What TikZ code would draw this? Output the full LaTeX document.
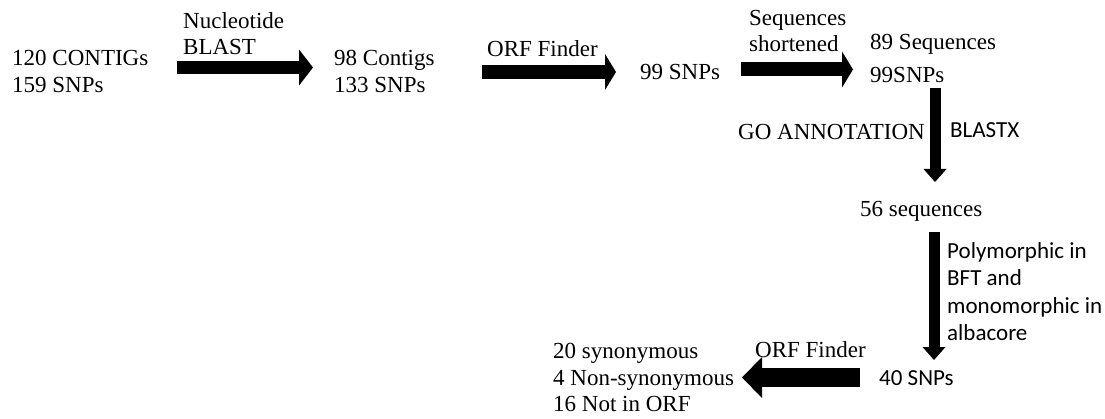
\documentclass[tikz,border=0pt]{standalone}
\usepackage{fontspec}
\setmainfont{Liberation Serif}
\newfontfamily\calib{Carlito}
\usetikzlibrary{arrows.meta}
\begin{document}
\begin{tikzpicture}[x=1pt,y=-1pt,
  lbl/.style={inner sep=0pt, anchor=base west, font=\fontsize{23}{26}\selectfont},
  lblr/.style={inner sep=0pt, anchor=base east, font=\fontsize{23}{26}\selectfont},
  slbl/.style={inner sep=0pt, anchor=base west, font=\calib\fontsize{23}{27}\selectfont},
  hbig/.style={draw=black, line width=13pt, -{Triangle[length=14pt,width=36pt,line width=0pt]}},
  hmid/.style={draw=black, line width=14pt, -{Triangle[length=11pt,width=36pt,line width=0pt]}},
  vbig/.style={draw=black, line width=11pt, -{Triangle[length=13pt,width=23pt,line width=0pt]}},
  lbig/.style={draw=black, line width=19pt, -{Triangle[length=20pt,width=41pt,line width=0pt]}}]
\useasboundingbox (0,0) rectangle (1105,419);

% texts
\node[lbl] (t1a) at (12,66) {120 CONTIGs};
\node[lbl] (t1b) at (12,92.5) {159 SNPs};
\node[lbl] (l1a) at (183,28.5) {Nucleotide};
\node[lbl] (l1b) at (183,55) {BLAST};
\node[lbl] (t2a) at (334,66) {98 Contigs};
\node[lbl] (t2b) at (334,92.5) {133 SNPs};
\node[lbl] (l2) at (487,57) {ORF Finder};
\node[lbl] (t3) at (640,79.5) {99 SNPs};
\node[lbl] (l3a) at (749,25.5) {Sequences};
\node[lbl] (l3b) at (749,52) {shortened};
\node[lbl] (t4a) at (870,50) {89 Sequences};
\node[lbl] (t4b) at (870,83) {99SNPs};
\node[lblr] (l4a) at (925,140) {GO ANNOTATION};
\node[slbl] (l4b) at (950,138) {BLASTX};
\node[lbl] (t5) at (860,217) {56 sequences};
\node[slbl] (l5a) at (947,258.5) {Polymorphic in};
\node[slbl] (l5b) at (947,286) {BFT and};
\node[slbl] (l5c) at (947,313.5) {monomorphic in};
\node[slbl] (l5d) at (947,341) {albacore};
\node[slbl] (t6) at (879,385) {40 SNPs};
\node[lbl] (l6) at (755,357) {ORF Finder};
\node[lbl] (t7a) at (553,358.5) {20 synonymous};
\node[lbl] (t7b) at (553,385) {4 Non-synonymous};
\node[lbl] (t7c) at (553,411.5) {16 Not in ORF};

% arrow end points
\coordinate (a1s) at (177,67.5);  \coordinate (a1e) at (313,67.5);
\coordinate (a2s) at (482,72);    \coordinate (a2e) at (616,72);
\coordinate (a3s) at (741,69.5);  \coordinate (a3e) at (853,69.5);
\coordinate (a4s) at (935,88);    \coordinate (a4e) at (935,182);
\coordinate (a5s) at (934,232);   \coordinate (a5e) at (934,360);
\coordinate (a6s) at (860,377.5); \coordinate (a6e) at (742,377.5);

\draw[hbig] (a1s) -- (a1e);
\draw[hmid] (a2s) -- (a2e);
\draw[hmid] (a3s) -- (a3e);
\draw[vbig] (a4s) -- (a4e);
\draw[vbig] (a5s) -- (a5e);
\draw[lbig] (a6s) -- (a6e);
\end{tikzpicture}
\end{document}
